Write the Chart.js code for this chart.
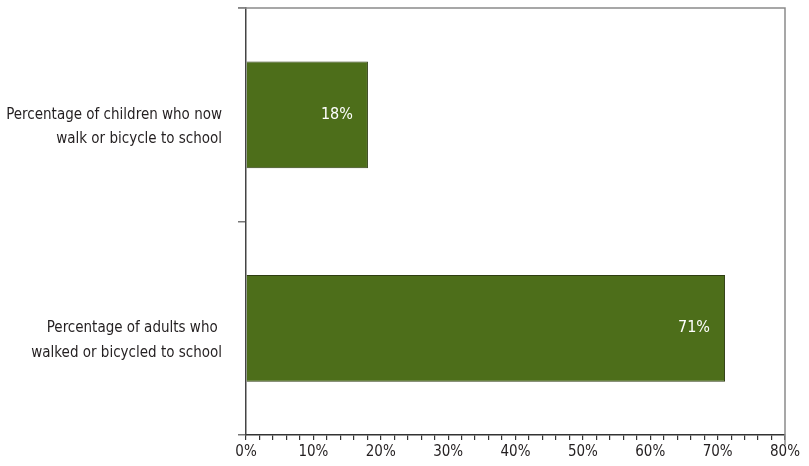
<!DOCTYPE html>
<html>
<head>
<meta charset="utf-8">
<script src="https://cdn.jsdelivr.net/npm/chart.js@4"></script>
<style>
html,body{margin:0;padding:0;background:#fff;}
#wrap{width:809px;height:466px;}
</style>
</head>
<body>
<div id="wrap"><canvas id="c" width="809" height="466"></canvas></div>
<script>
const categories = [
  ['', 'Percentage of children who now', 'walk or bicycle to school'],
  ['', 'Percentage of adults who ', 'walked or bicycled to school']
];
const values = [18.1, 71.1];
const valueLabels = ['18%', '71%'];
const xMin = 0, xMax = 80, xStep = 2, xLabelStep = 10;

const FONT = '"Liberation Sans Narrow", "DejaVu Sans Condensed", sans-serif';

const barLabels = {
  id: 'barLabels',
  afterDatasetsDraw(chart) {
    const ctx = chart.ctx;
    const meta = chart.getDatasetMeta(0);
    ctx.save();
    ctx.fillStyle = '#ffffff';
    ctx.font = '16px ' + FONT;
    ctx.textAlign = 'right';
    ctx.textBaseline = 'middle';
    meta.data.forEach((bar, i) => {
      ctx.fillText(valueLabels[i], bar.x - 15, bar.y);
    });
    ctx.restore();
  }
};

const frame = {
  id: 'frame',
  beforeDatasetsDraw(chart) {
    const a = chart.chartArea, ctx = chart.ctx;
    ctx.save();
    ctx.strokeStyle = '#8a8a8a';
    ctx.lineWidth = 1.5;
    ctx.beginPath();
    ctx.moveTo(a.left - 8, a.top);
    ctx.lineTo(a.right, a.top);
    ctx.lineTo(a.right, a.bottom + 10);
    ctx.stroke();
    ctx.restore();
  }
};

new Chart(document.getElementById('c'), {
  type: 'bar',
  data: {
    labels: categories,
    datasets: [{
      data: values,
      backgroundColor: '#4d6e1a',
      borderColor: '#2e3d12',
      borderWidth: 1,
      categoryPercentage: 1,
      barPercentage: 0.5
    }]
  },
  options: {
    indexAxis: 'y',
    responsive: false,
    animation: false,
    layout: { padding: { top: 8, right: 24, bottom: 2, left: 0 } },
    plugins: { legend: { display: false }, tooltip: { enabled: false } },
    scales: {
      x: {
        min: xMin, max: xMax,
        grid: { drawOnChartArea: false, tickLength: 5, color: '#333', lineWidth: 1.2 },
        border: { color: '#333', width: 1.5 },
        ticks: {
          stepSize: xStep,
          autoSkip: false,
          maxRotation: 0,
          padding: 3,
          color: '#231f20',
          font: { family: FONT, size: 15 },
          callback: (v) => (v % xLabelStep === 0 ? v + '%' : '')
        }
      },
      y: {
        offset: true,
        grid: { offset: true, drawOnChartArea: false, tickLength: 8, color: '#777', lineWidth: 1.5 },
        border: { color: '#444', width: 1.5 },
        ticks: {
          padding: 16,
          color: '#231f20',
          font: { family: FONT, size: 15, lineHeight: 1.65 }
        },
        afterFit(scale) { scale.width = 246; scale.paddingTop = 0; scale.paddingBottom = 0; }
      }
    }
  },
  plugins: [barLabels, frame]
});
</script>
</body>
</html>
